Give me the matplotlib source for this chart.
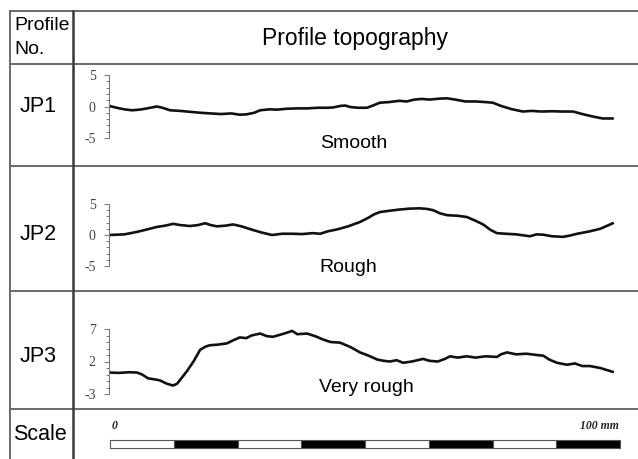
import numpy as np
import matplotlib.pyplot as plt
from matplotlib.ticker import FixedLocator, MultipleLocator

# profile traces, distance along profile in mm and height in mm
jp1_x = [0, 1.5, 3, 4.5, 6, 7.5, 9.4, 10.5, 12, 14, 16, 18, 20, 22, 24, 25.7, 27, 28.5,
         29.7, 31.5, 33, 35, 37, 39, 41, 43, 44, 45.5, 46.4, 47.5, 49, 50.7, 52, 53.2,
         55, 57, 58.5, 60, 61.5, 63, 65, 66.4, 68, 70, 72, 74, 75.4, 77, 79, 81.3, 83,
         85, 87, 89, 91.2, 93, 95.1, 97, 99]
jp1_z = [0.1, -0.2, -0.45, -0.6, -0.5, -0.3, 0.0, -0.2, -0.6, -0.7, -0.85, -1.0, -1.1,
         -1.2, -1.1, -1.3, -1.25, -1.0, -0.6, -0.45, -0.5, -0.35, -0.3, -0.3, -0.2, -0.2,
         -0.15, 0.1, 0.15, -0.1, -0.2, -0.2, 0.2, 0.6, 0.7, 0.9, 0.8, 1.1, 1.2, 1.1, 1.25,
         1.3, 1.1, 0.8, 0.8, 0.7, 0.6, 0.1, -0.4, -0.8, -0.7, -0.8, -0.75, -0.8, -0.8,
         -1.2, -1.6, -1.9, -1.9]

jp2_x = [0, 3, 5.5, 7.5, 9.4, 11, 12.6, 14, 15.9, 17.5, 18.9, 20, 21.2, 22.8, 24.4, 26,
         28.3, 30, 32, 34, 36.1, 38, 40, 41.5, 43, 44.8, 47, 49.3, 51, 52, 53.2, 55, 57,
         59, 61.1, 62.5, 63.7, 65, 66.4, 68.5, 70.3, 72, 73.5, 75, 76.2, 78, 80, 82.7,
         84, 85.3, 87, 89.2, 90.5, 92, 94.5, 96.5, 99]
jp2_z = [0.0, 0.1, 0.5, 0.9, 1.3, 1.5, 1.8, 1.6, 1.45, 1.6, 1.9, 1.6, 1.4, 1.5, 1.7, 1.4,
         0.8, 0.4, 0.0, 0.2, 0.2, 0.15, 0.3, 0.2, 0.6, 0.9, 1.4, 2.1, 2.8, 3.3, 3.7, 3.9,
         4.1, 4.25, 4.3, 4.2, 4.0, 3.5, 3.2, 3.1, 2.9, 2.3, 1.7, 0.8, 0.3, 0.2, 0.1, -0.2,
         0.1, 0.05, -0.2, -0.3, -0.1, 0.2, 0.6, 1.0, 1.9]

jp3_x = [0, 2, 4, 5.5, 6.5, 7.7, 9, 10, 11.3, 12.6, 13.4, 14.2, 15.3, 16.6, 17.9, 19,
         19.8, 21.5, 23.2, 24.5, 25.7, 27, 28, 29.7, 31, 32.2, 34, 36, 37, 38.9, 40.5, 42,
         43.5, 45.4, 47.5, 49.3, 51, 52.7, 54, 55.2, 56.5, 57.8, 59.5, 61.7, 63, 64.6, 66,
         67, 68.5, 70.3, 72, 74, 76.2, 77, 78.2, 80, 82, 84, 85.3, 86.5, 88, 90, 91.5, 93,
         94.5, 96.5, 99]
jp3_z = [0.3, 0.25, 0.35, 0.3, 0.0, -0.6, -0.75, -0.9, -1.4, -1.7, -1.4, -0.6, 0.5, 2.0,
         3.8, 4.3, 4.5, 4.6, 4.8, 5.3, 5.7, 5.6, 6.0, 6.3, 5.9, 5.8, 6.2, 6.7, 6.2, 6.3,
         5.9, 5.4, 5.0, 4.9, 4.2, 3.4, 2.9, 2.3, 2.1, 2.0, 2.2, 1.8, 2.0, 2.4, 2.1, 2.0,
         2.4, 2.8, 2.6, 2.8, 2.6, 2.8, 2.7, 3.1, 3.4, 3.1, 3.2, 3.0, 2.9, 2.3, 1.8, 1.5,
         1.7, 1.3, 1.3, 1.0, 0.4]

row_names = ["JP1", "JP2", "JP3"]
row_notes = ["Smooth", "Rough", "Very rough"]
y_ticks = [[-5, 0, 5], [-5, 0, 5], [-3, 2, 7]]
y_limits = [(-5, 5), (-5, 5), (-3, 7)]
scale_segments = 8
scale_length = 100  # mm

W, H = 638, 459
plt.rcParams['font.family'] = ['Liberation Sans', 'DejaVu Sans']
plt.rcParams['axes.unicode_minus'] = False
fig = plt.figure(figsize=(W / 100, H / 100), dpi=100)

# table frame drawn in pixel coordinates
tab = fig.add_axes([0, 0, 1, 1])
tab.set_xlim(0, W)
tab.set_ylim(H, 0)
tab.axis('off')

line_kw = dict(color='#6a6a6a', lw=1.4)
for y in [11, 64, 166, 291, 409]:
    tab.plot([10, W], [y, y], **line_kw)
tab.plot([10, 10], [11, H], **line_kw)
tab.plot([73, 73], [11, H], color='#3a3a3a', lw=1.8)

tab.text(14, 25, "Profile", fontsize=14, va='center', ha='left')
tab.text(14, 49, "No.", fontsize=14, va='center', ha='left')
tab.text(355, 38, "Profile topography", fontsize=16.5, va='center', ha='center')

label_y = [107, 235, 357]
note_pos = [(354, 143), (348, 267), (366, 388)]
for name, ly in zip(row_names, label_y):
    tab.text(38, ly, name, fontsize=15.5, va='center', ha='center')
tab.text(40, 435, "Scale", fontsize=15.5, va='center', ha='center')

# profile axes: (top pixel, bottom pixel) of y-axis span
axis_px = [(75, 138), (204, 266), (329, 394)]
profiles = [(jp1_x, jp1_z), (jp2_x, jp2_z), (jp3_x, jp3_z)]
x0, x1 = 109, 618
for (px, pz), (top, bot), lim, ticks, note, npos in zip(
        profiles, axis_px, y_limits, y_ticks, row_notes, note_pos):
    ax = fig.add_axes([x0 / W, (H - bot) / H, (x1 - x0) / W, (bot - top) / H])
    ax.patch.set_alpha(0)
    ax.plot(px, pz, color='#111111', lw=1.9, solid_capstyle='round',
            solid_joinstyle='round')
    ax.set_xlim(0, scale_length)
    ax.set_ylim(*lim)
    for s in ['top', 'right', 'bottom']:
        ax.spines[s].set_visible(False)
    ax.spines['left'].set_color('#777777')
    ax.spines['left'].set_linewidth(0.8)
    ax.set_xticks([])
    ax.yaxis.set_major_locator(FixedLocator(ticks))
    ax.yaxis.set_minor_locator(MultipleLocator(1))
    ax.tick_params(axis='y', which='both', color='#777777', width=0.7,
                   labelsize=10, labelcolor='#444444', pad=6)
    ax.tick_params(axis='y', which='major', length=3.5)
    ax.tick_params(axis='y', which='minor', length=2.5)
    for lab in ax.get_yticklabels():
        lab.set_family('Liberation Serif')
    tab.text(npos[0], npos[1], note, fontsize=14, va='center', ha='center')

# scale bar, alternating white and black segments
sax = fig.add_axes([110 / W, (H - 448) / H, (620 - 110) / W, 8 / H])
seg = scale_length / scale_segments
for i in range(scale_segments):
    sax.bar(i * seg, 1, width=seg, align='edge',
            color='white' if i % 2 == 0 else 'black',
            edgecolor='#555555', linewidth=0.8, clip_on=False)
sax.set_xlim(0, scale_length)
sax.set_ylim(0, 1)
sax.axis('off')
tab.text(112, 426, "0", fontsize=8.5, family='Liberation Serif', style='italic',
         weight='bold', ha='left', va='center', color='#222222')
tab.text(619, 426, "100 mm", fontsize=8.5, family='Liberation Serif', style='italic',
         weight='bold', ha='right', va='center', color='#222222')

fig.savefig("out.png", dpi=100)
